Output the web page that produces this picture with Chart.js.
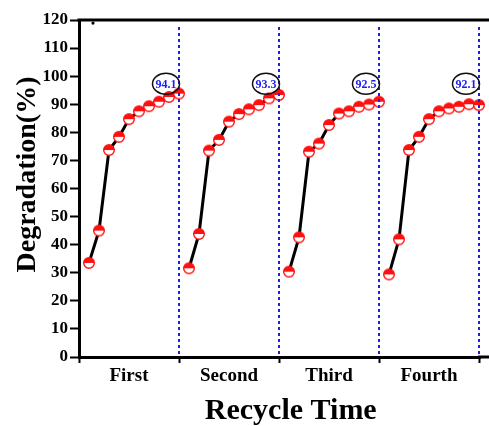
<!DOCTYPE html>
<html>
<head>
<meta charset="utf-8">
<script src="https://cdn.jsdelivr.net/npm/chart.js@4"></script>
<style>
  html, body { margin: 0; padding: 0; background: #fff; }
  #wrap { width: 489px; height: 426px; }
</style>
</head>
<body>
<div id="wrap"><canvas id="chart" width="489" height="426"></canvas></div>
<script>
// Degradation over four recycle runs

var cycleNames = ["First", "Second", "Third", "Fourth"];
// position of each reading inside one run
var stepPos = [0.1, 0.2, 0.3, 0.4, 0.5, 0.6, 0.7, 0.8, 0.9, 1.0];

var cycle1 = [33.5, 45.0, 73.7, 78.4, 84.7, 87.5, 89.3, 90.9, 92.6, 93.8];
var cycle2 = [31.6, 43.8, 73.5, 77.3, 83.8, 86.5, 88.2, 89.7, 92.1, 93.3];
var cycle3 = [30.4, 42.6, 73.1, 76.0, 82.6, 86.7, 87.5, 89.1, 89.9, 90.9];
var cycle4 = [29.4, 41.9, 73.7, 78.4, 84.7, 87.5, 88.5, 89.1, 90.0, 89.7];
var cycles = [cycle1, cycle2, cycle3, cycle4];

// circled final values
var finalLabels = ["94.1", "93.3", "92.5", "92.1"];

// small stray mark near the top left
var strayDot = [{ x: 0.14, y: 118.9 }];

var serif = "'Liberation Serif', 'Times New Roman', serif";

// half filled marker
function makeMarker() {
  var c = document.createElement("canvas");
  c.width = 14;
  c.height = 14;
  var g = c.getContext("2d");
  g.fillStyle = "#ffffff";
  g.beginPath();
  g.arc(7, 7, 5.3, 0, Math.PI * 2);
  g.fill();
  g.fillStyle = "#ff1010";
  g.beginPath();
  g.arc(7, 7, 5.3, Math.PI, Math.PI * 2);
  g.closePath();
  g.fill();
  g.strokeStyle = "#ff1010";
  g.lineWidth = 1.4;
  g.beginPath();
  g.arc(7, 7, 5.3, 0, Math.PI * 2);
  g.stroke();
  return c;
}
var marker = makeMarker();

var datasets = [];
for (var i = 0; i < cycles.length; i++) {
  var pts = [];
  for (var j = 0; j < stepPos.length; j++) {
    pts.push({ x: i + stepPos[j], y: cycles[i][j] });
  }
  datasets.push({
    label: cycleNames[i],
    data: pts,
    borderColor: "#000",
    borderWidth: 3,
    tension: 0,
    clip: false,
    pointStyle: marker,
    pointRadius: 6,
    pointHoverRadius: 6
  });
}
datasets.push({
  label: "stray",
  data: strayDot,
  showLine: false,
  pointStyle: "circle",
  pointRadius: 1.6,
  backgroundColor: "#000",
  borderColor: "#000",
  borderWidth: 0
});

var decorPlugin = {
  id: "decor",
  afterDatasetsDraw: function(chart) {
    var ctx = chart.ctx;
    var xs = chart.scales.x;
    var ys = chart.scales.y;
    var a = chart.chartArea;
    ctx.save();

    // top frame line, and the axes running on past the cropped edge
    ctx.strokeStyle = "#000";
    ctx.lineWidth = 3;
    ctx.beginPath();
    ctx.moveTo(a.left - 1.5, a.top);
    ctx.lineTo(chart.width, a.top);
    ctx.moveTo(a.right - 2, a.bottom);
    ctx.lineTo(chart.width, a.bottom);
    ctx.stroke();

    // dashed separators between runs
    ctx.strokeStyle = "#1c1cf0";
    ctx.lineWidth = 2;
    ctx.setLineDash([3, 3]);
    for (var k = 1; k <= cycleNames.length; k++) {
      var px = Math.round(xs.getPixelForValue(k));
      ctx.beginPath();
      ctx.moveTo(px, ys.getPixelForValue(117.5));
      ctx.lineTo(px, a.bottom);
      ctx.stroke();
    }
    ctx.setLineDash([]);

    // circled values
    ctx.font = "bold 12px " + serif;
    ctx.textAlign = "center";
    ctx.textBaseline = "middle";
    for (var m = 0; m < finalLabels.length; m++) {
      var cx = xs.getPixelForValue(m + 1 - 0.13);
      var cy = ys.getPixelForValue(97.3);
      ctx.strokeStyle = "#111";
      ctx.lineWidth = 1.5;
      ctx.beginPath();
      ctx.ellipse(cx, cy, 13.5, 10.5, 0, 0, Math.PI * 2);
      ctx.stroke();
      ctx.fillStyle = "#1c1cf0";
      ctx.fillText(finalLabels[m], cx, cy + 1);
    }
    ctx.restore();
  }
};

new Chart(document.getElementById("chart").getContext("2d"), {
  type: "line",
  data: { datasets: datasets },
  options: {
    responsive: false,
    animation: false,
    layout: { padding: { top: 20, right: 0, bottom: 0, left: 0 } },
    plugins: {
      legend: { display: false },
      tooltip: { enabled: false }
    },
    scales: {
      x: {
        type: "linear",
        min: 0,
        max: 4.01,
        afterFit: function(s) { s.height = 69; },
        border: { width: 3, color: "#000" },
        grid: {
          drawOnChartArea: false,
          tickLength: 6,
          tickWidth: 2,
          tickColor: function(c) {
            return c.tick && c.tick.value % 1 === 0 ? "#000" : "rgba(0,0,0,0)";
          }
        },
        ticks: {
          stepSize: 0.5,
          includeBounds: false,
          autoSkip: false,
          maxRotation: 0,
          padding: 2,
          color: "#000",
          font: { family: serif, size: 19, weight: "bold" },
          callback: function(v) {
            var k = v - 0.5;
            return k % 1 === 0 && cycleNames[k] ? cycleNames[k] : "";
          }
        },
        title: {
          display: true,
          text: "\u00a0\u00a0\u00a0Recycle Time",
          color: "#000",
          font: { family: serif, size: 30, weight: "bold", lineHeight: 1 },
          padding: { top: 0, bottom: 0 }
        }
      },
      y: {
        min: 0,
        max: 120,
        afterFit: function(s) { s.width = 79; },
        border: { width: 3, color: "#000" },
        grid: { drawOnChartArea: false, tickLength: 9, tickWidth: 2, tickColor: "#000" },
        ticks: {
          stepSize: 10,
          padding: 2,
          color: "#000",
          font: { family: serif, size: 17, weight: "bold" }
        },
        title: {
          display: true,
          text: "\u00a0\u00a0\u00a0\u00a0Degradation(%)",
          color: "#000",
          font: { family: serif, size: 28, weight: "bold", lineHeight: 1.2 },
          padding: { top: 11, bottom: 0 }
        }
      }
    }
  },
  plugins: [decorPlugin]
});
</script>
</body>
</html>
